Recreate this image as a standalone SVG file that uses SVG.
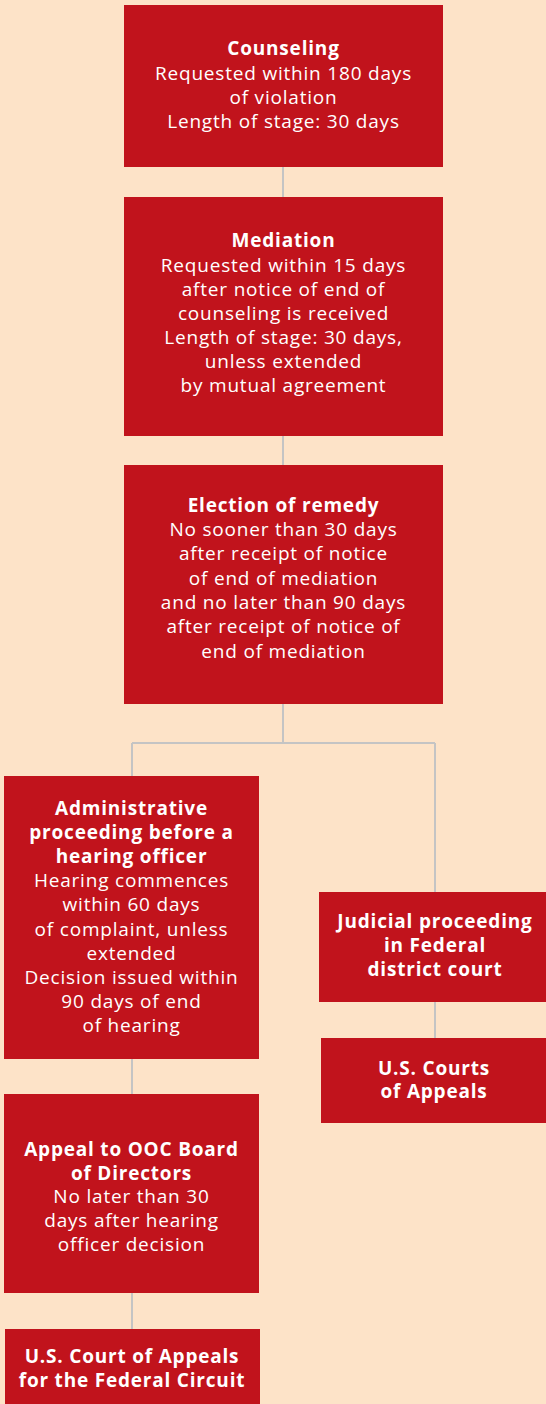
<svg xmlns="http://www.w3.org/2000/svg" width="546" height="1404" viewBox="0 0 546 1404">
<style>
.box{fill:#C1131C}
.t{font-family:"Open Sans","Liberation Sans",sans-serif;font-size:19px;letter-spacing:0.8px;fill:#ffffff;text-anchor:middle}
.b{font-weight:bold}
.c{stroke:#C4C4C4;stroke-width:2;fill:none}
</style>
<rect width="546" height="1404" fill="#FDE3C8"/>
<g id="connectors">
<path class="c" d="M283 167V197M283 436V465M283 704V743M132 743H435M132 743V776M435 743V892M435 1002V1038M132 1059V1094M132 1293V1329"/>
</g>
<g id="counseling">
<rect class="box" x="124" y="5" width="319" height="162"/>
<text class="t"><tspan class="b" x="283.5" y="55">Counseling</tspan><tspan x="283.5" y="80">Requested within 180 days</tspan><tspan x="283.5" y="104">of violation</tspan><tspan x="283.5" y="128">Length of stage: 30 days</tspan></text>
</g>
<g id="mediation">
<rect class="box" x="124" y="197" width="319" height="239"/>
<text class="t"><tspan class="b" x="283.5" y="247">Mediation</tspan><tspan x="283.5" y="272">Requested within 15 days</tspan><tspan x="283.5" y="296">after notice of end of</tspan><tspan x="283.5" y="320">counseling is received</tspan><tspan x="283.5" y="344">Length of stage: 30 days,</tspan><tspan x="283.5" y="368">unless extended</tspan><tspan x="283.5" y="392">by mutual agreement</tspan></text>
</g>
<g id="election">
<rect class="box" x="124" y="465" width="319" height="239"/>
<text class="t"><tspan class="b" x="283.5" y="512">Election of remedy</tspan><tspan x="283.5" y="536">No sooner than 30 days</tspan><tspan x="283.5" y="560">after receipt of notice</tspan><tspan x="283.5" y="585">of end of mediation</tspan><tspan x="283.5" y="609">and no later than 90 days</tspan><tspan x="283.5" y="633">after receipt of notice of</tspan><tspan x="283.5" y="658">end of mediation</tspan></text>
</g>
<g id="administrative">
<rect class="box" x="4" y="776" width="255" height="283"/>
<text class="t"><tspan class="b" x="131.5" y="815">Administrative</tspan><tspan class="b" x="131.5" y="839">proceeding before a</tspan><tspan class="b" x="131.5" y="863">hearing officer</tspan><tspan x="131.5" y="887">Hearing commences</tspan><tspan x="131.5" y="911">within 60 days</tspan><tspan x="131.5" y="936">of complaint, unless</tspan><tspan x="131.5" y="960">extended</tspan><tspan x="131.5" y="984">Decision issued within</tspan><tspan x="131.5" y="1008">90 days of end</tspan><tspan x="131.5" y="1032">of hearing</tspan></text>
</g>
<g id="judicial">
<rect class="box" x="319" y="892" width="227" height="110"/>
<text class="t b"><tspan x="435" y="928">Judicial proceeding</tspan><tspan x="435" y="952">in Federal</tspan><tspan x="435" y="976">district court</tspan></text>
</g>
<g id="courts-of-appeals">
<rect class="box" x="321" y="1038" width="225" height="85"/>
<text class="t b"><tspan x="434" y="1075">U.S. Courts</tspan><tspan x="434" y="1098">of Appeals</tspan></text>
</g>
<g id="appeal-ooc">
<rect class="box" x="4" y="1094" width="255" height="199"/>
<text class="t"><tspan class="b" x="131.5" y="1156">Appeal to OOC Board</tspan><tspan class="b" x="131.5" y="1180">of Directors</tspan><tspan x="131.5" y="1203">No later than 30</tspan><tspan x="131.5" y="1227">days after hearing</tspan><tspan x="131.5" y="1251">officer decision</tspan></text>
</g>
<g id="federal-circuit">
<rect class="box" x="5" y="1329" width="255" height="75"/>
<text class="t b"><tspan x="132" y="1363">U.S. Court of Appeals</tspan><tspan x="132" y="1387">for the Federal Circuit</tspan></text>
</g>
</svg>
